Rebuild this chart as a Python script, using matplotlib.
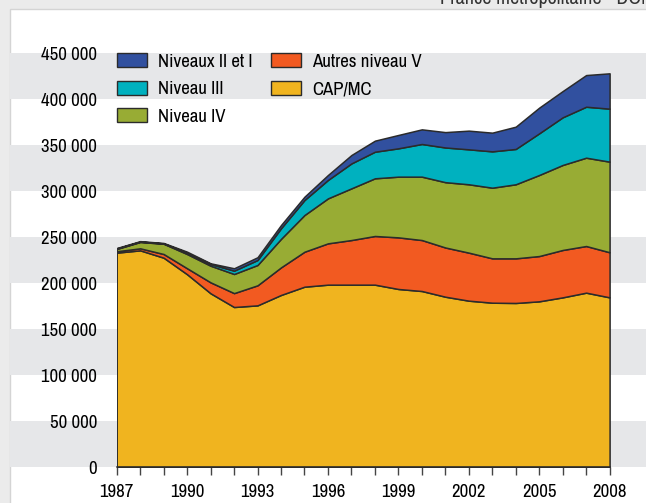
import matplotlib.pyplot as plt
import matplotlib.transforms as mtransforms
from matplotlib import font_manager
from matplotlib.patches import Rectangle, Patch

# prefer a narrow face like the original print layout, if one is installed
installed = {f.name for f in font_manager.fontManager.ttflist}
narrow = [n for n in sorted(installed) if "Narrow" in n or "Condensed" in n]
plt.rcParams["font.family"] = narrow[:1] + ["Liberation Sans", "DejaVu Sans"]
plt.rcParams["font.size"] = 13.5

years = list(range(1987, 2009))

# thousands of people (stacked bottom-up)
cap_mc = [233, 235.5, 227.5, 209.5, 188.8, 173.9, 175.7, 187, 196, 198.2, 198.2,
          198.2, 193.5, 191.3, 185.1, 180.8, 178.6, 178.3, 180.1, 184.4, 189.5, 184.4]
autres_v = [1.5, 2.2, 4, 6.5, 11.9, 15.1, 21.8, 30, 38, 44.9, 48.5,
            52.9, 56.1, 55.4, 53.5, 52.2, 48.2, 48.5, 49.2, 51.5, 50.7, 49]
niveau_iv = [2.5, 6.9, 11.2, 15.5, 18.1, 20.8, 22.1, 31, 39.9, 48.9, 56.2,
             62.7, 66, 68.9, 71, 74.3, 76.8, 80.5, 88.1, 92.4, 96, 98.5]
niveau_iii = [0.5, 0.4, 0.3, 1.5, 1.8, 3.6, 5.4, 11.5, 16.3, 20, 27.1,
              28.9, 30.8, 35.5, 37.7, 38, 39.5, 38.4, 45.3, 51.8, 55.4, 57.6]
niveaux_ii_i = [0.5, 0.5, 0.5, 1, 0.8, 2.6, 3, 3.5, 3.6, 5.4, 9.1,
                12, 14.5, 15.9, 16.7, 20.3, 20.3, 24.2, 27.9, 28.5, 34.4, 38.4]

series = [cap_mc, autres_v, niveau_iv, niveau_iii, niveaux_ii_i]
names = ["CAP/MC", "Autres niveau V", "Niveau IV", "Niveau III", "Niveaux II et I"]
colors = ["#f0b41f", "#f25a21", "#98ac34", "#00b1bf", "#31509f"]

y_ticks = list(range(0, 450001, 50000))
y_labels = ["0"] + [f"{v // 1000} 000" for v in y_ticks[1:]]

fig = plt.figure(figsize=(6.46, 5.03), dpi=100, facecolor="#ebebeb")
fig.patches.append(Rectangle((10 / 646, -0.01), 1, 1.01 - 9 / 503, transform=fig.transFigure,
                             facecolor="white", edgecolor="#d4d4d4", lw=1, zorder=-10))
fig.text(440 / 646, 1 - 4 / 503, "France métropolitaine • DOM", ha="left", va="baseline",
         color="#333333", fontsize=14.5)

ax = fig.add_axes([116.7 / 646, 1 - 467 / 503, (609.6 - 116.7) / 646, (467 - 53) / 503])
ax.patch.set_alpha(0)

# alternating grey bands across the whole panel
trans = mtransforms.blended_transform_factory(fig.transFigure, ax.transData)
for lo in range(0, 450000, 100000):
    ax.add_patch(Rectangle((10 / 646, lo), 1, 50000, transform=trans, facecolor="#e6e7e9",
                           edgecolor="none", clip_on=False, zorder=0))

ax.stackplot(years, [[v * 1000 for v in s] for s in series], colors=colors,
             edgecolor="#2b2b2b", linewidth=1.1, zorder=2)

ax.set_xlim(1987, 2008)
ax.set_ylim(0, 450000)
ax.set_xticks(years)
ax.set_xticklabels([str(y) if (y - 1987) % 3 == 0 else "" for y in years])
ax.set_yticks(y_ticks)
ax.set_yticklabels(y_labels)
ax.tick_params(axis="y", length=0, pad=14)
ax.tick_params(axis="x", length=6, width=1, color="#444444", pad=6)
for side in ["top", "right", "left"]:
    ax.spines[side].set_visible(False)
ax.spines["bottom"].set_color("#2b2b2b")
ax.spines["bottom"].set_linewidth(1.1)
ax.spines["bottom"].set_zorder(3)

order = [4, 3, 2, 1, 0]
handles = [Patch(facecolor=colors[i], edgecolor="#2b2b2b", lw=1) for i in order]
ax.legend(handles, [names[i] for i in order], ncol=2, loc="upper left",
          bbox_to_anchor=(0, 1.0), frameon=False, handlelength=1.6, handleheight=0.8,
          handletextpad=0.6, labelspacing=0.58, columnspacing=1.0, borderaxespad=0,
          borderpad=0)

fig.savefig("out.png", dpi=100, facecolor=fig.get_facecolor())
